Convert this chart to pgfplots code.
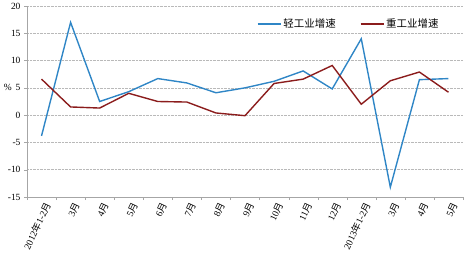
\documentclass[border=0pt]{standalone}
\usepackage{fontspec}
\setmainfont{Liberation Serif}
\newfontfamily\cjk{Noto Sans CJK SC}
\usepackage{pgfplots}
\pgfplotsset{compat=1.18}
\definecolor{lightc}{HTML}{2F86C6}
\definecolor{heavyc}{HTML}{8B1C1C}
\begin{document}
\begin{tikzpicture}[x=1bp,y=1bp]
\begin{axis}[
  name=ax,
  scale only axis,
  width=436bp, height=191bp,
  xmin=-0.5, xmax=14.5,
  ymin=-15, ymax=20,
  ytick={-15,-10,...,20},
  xtick={0,...,14},
  xticklabels={2012{\cjk 年}1-2{\cjk 月},3{\cjk 月},4{\cjk 月},5{\cjk 月},6{\cjk 月},7{\cjk 月},8{\cjk 月},9{\cjk 月},10{\cjk 月},11{\cjk 月},12{\cjk 月},2013{\cjk 年}1-2{\cjk 月},3{\cjk 月},4{\cjk 月},5{\cjk 月}},
  minor xtick={-0.5,0.5,...,14.5},
  major x tick style={draw=none},
  minor x tick style={draw=gray!70},
  y tick style={draw=gray!70},
  tick align=outside,
  major tick length=3bp, minor tick length=3bp,
  axis x line*=bottom, axis y line*=left,
  axis line style={draw=gray!70, line width=0.6pt, -},
  ymajorgrids,
  grid style={gray!55, densely dotted, line width=0.6pt},
  xticklabel style={rotate=65, anchor=east, font=\fontsize{9.5}{10}\selectfont, inner sep=1pt, yshift=-7bp, xshift=1bp},
  yticklabel style={font=\fontsize{9.5}{10}\selectfont, /pgf/number format/assume math mode=true},
  y tick label style={/pgf/number format/assume math mode=true},
  legend style={draw=none, fill=none, at={(rel axis cs:0.527,0.906)}, anchor=west, inner sep=0pt, font=\cjk\fontsize{10.5}{11}\selectfont, /tikz/every even column/.append style={column sep=22bp}},
  legend columns=2,
  legend image code/.code={\draw[#1, line width=1.5pt] (0bp,0bp) -- (23bp,0bp);},
  clip=false,
]
\addplot[lightc, line width=1.4pt] coordinates {
(0,-3.8) (1,17.0) (2,2.5) (3,4.3) (4,6.7) (5,5.9) (6,4.1) (7,5.0) (8,6.2) (9,8.1) (10,4.8) (11,14.0) (12,-13.2) (13,6.5) (14,6.7)};
\addlegendentry{轻工业增速}
\addplot[heavyc, line width=1.4pt] coordinates {
(0,6.6) (1,1.5) (2,1.3) (3,4.0) (4,2.5) (5,2.4) (6,0.4) (7,-0.1) (8,5.8) (9,6.6) (10,9.1) (11,2.0) (12,6.3) (13,7.9) (14,4.2)};
\addlegendentry{重工业增速}
\node[anchor=east, font=\fontsize{9.5}{10}\selectfont, inner sep=0pt] at ([xshift=-15bp]rel axis cs:0,0.5714) {\%};
\end{axis}
\pgfresetboundingbox
\path (ax.south west) ++(-27bp,-77bp) rectangle ++(469bp,274bp);
\end{tikzpicture}
\end{document}
